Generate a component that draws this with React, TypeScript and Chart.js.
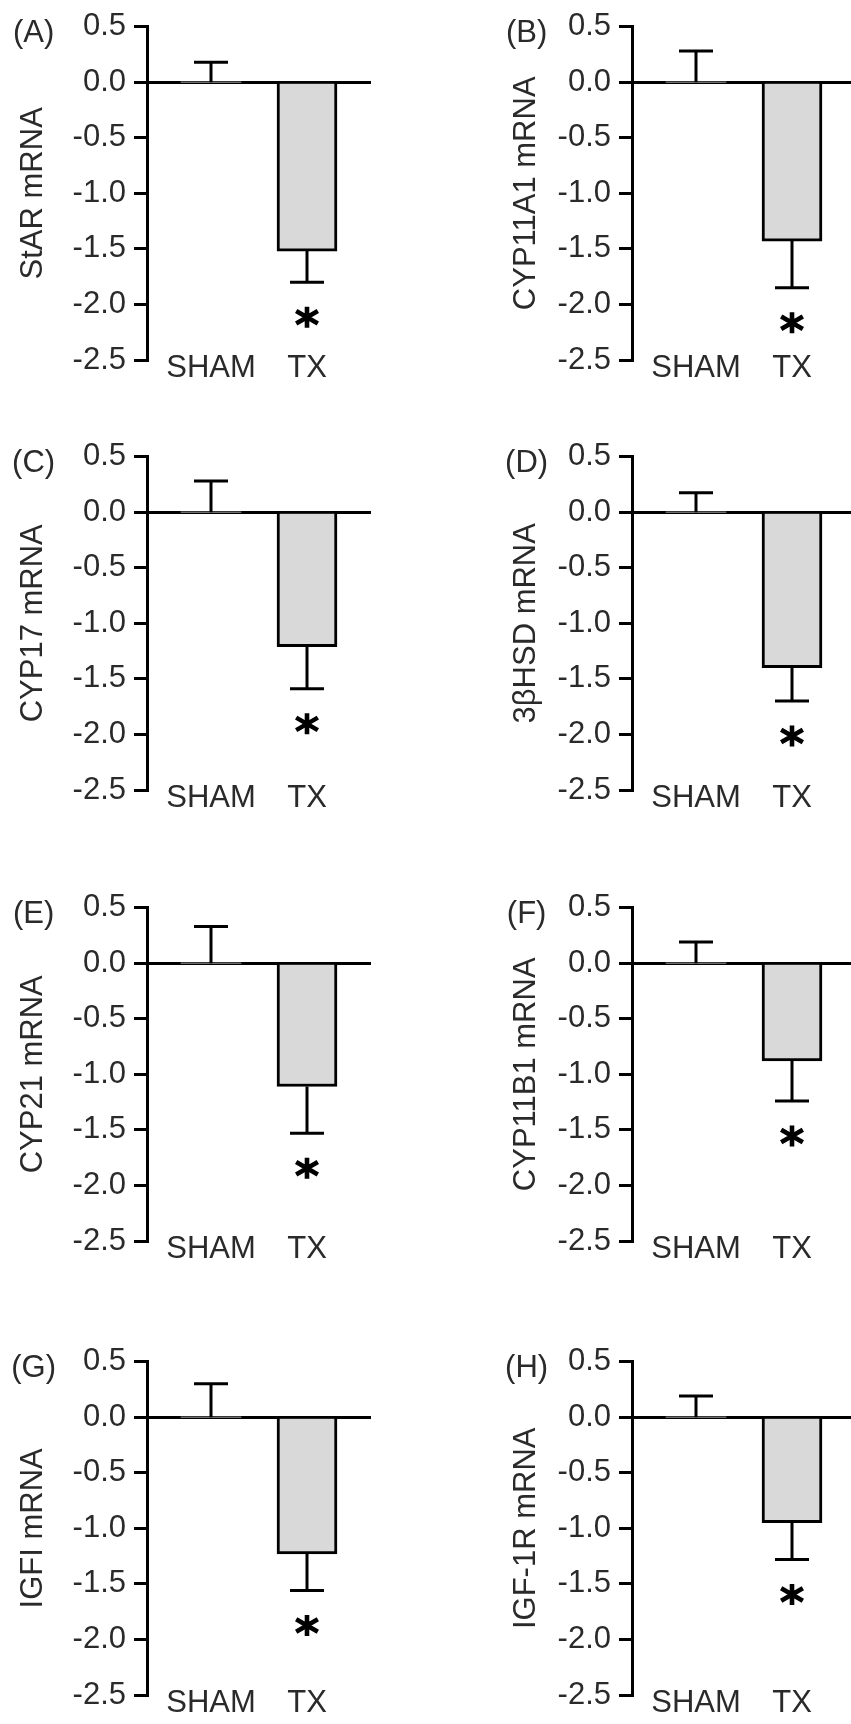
import React, { useEffect, useRef } from 'react';
import { Chart, registerables } from 'chart.js';

Chart.register(...registerables);

// ---- data ----
const panelLetters = ['(A)', '(B)', '(C)', '(D)', '(E)', '(F)', '(G)', '(H)'];
const geneLabels = [
  'StAR mRNA',
  'CYP11A1 mRNA',
  'CYP17 mRNA',
  '3βHSD mRNA',
  'CYP21 mRNA',
  'CYP11B1 mRNA',
  'IGFI mRNA',
  'IGF-1R mRNA',
];
const categories = ['SHAM', 'TX'];
const categoryPositions = [1, 2.5];
const shamMeans = [0, 0, 0, 0, 0, 0, 0, 0];
const shamErrors = [0.18, 0.28, 0.28, 0.175, 0.33, 0.19, 0.3, 0.19];
const txMeans = [-1.52, -1.43, -1.21, -1.4, -1.11, -0.88, -1.23, -0.95];
const txErrors = [0.28, 0.42, 0.38, 0.3, 0.42, 0.36, 0.33, 0.33];
const significant = [true, true, true, true, true, true, true, true];
const yTickValues = [-2.5, -2.0, -1.5, -1.0, -0.5, 0.0, 0.5];
const yMin = -2.5;
const yMax = 0.5;
const xMin = 0;
const xMax = 3.5;

// ---- layout / style ----
const FONT_FAMILY = '"Liberation Sans", Arial, Helvetica, sans-serif';
const FONT_SIZE = 31;
const TEXT_COLOR = '#2a2a2a';
const LINE_COLOR = '#000';
const BAR_FILL = '#d9d9d9';
const ROW_TOPS = [22, 452, 903, 1357];
const TOP_PAD = 22;
const PLOT_H = 338;
const BOTTOM_PAD = 40;
const CANVAS_H = TOP_PAD + PLOT_H + BOTTOM_PAD;
const COLS = [
  { canvasLeft: 0, width: 425, padLeft: 15, axisW: 132, padRight: 54 },
  { canvasLeft: 425, width: 431, padLeft: 83, axisW: 124, padRight: 0 },
];

function makeOverlay(i: number) {
  return {
    id: 'overlay' + i,
    afterDatasetsDraw(chart: any) {
      const { ctx } = chart;
      const x = chart.scales.x;
      const y = chart.scales.y;
      const means = [shamMeans[i], txMeans[i]];
      const errs = [shamErrors[i], txErrors[i]];
      ctx.save();
      ctx.strokeStyle = LINE_COLOR;
      ctx.lineWidth = 3;
      ctx.lineCap = 'butt';
      means.forEach((m, k) => {
        const px = x.getPixelForValue(categoryPositions[k]);
        const dir = m < 0 ? -1 : 1;
        const y0 = y.getPixelForValue(m);
        const y1 = y.getPixelForValue(m + dir * errs[k]);
        ctx.beginPath();
        ctx.moveTo(px, y0);
        ctx.lineTo(px, y1);
        ctx.moveTo(px - 17, y1);
        ctx.lineTo(px + 17, y1);
        ctx.stroke();
      });
      if (significant[i]) {
        const cx = x.getPixelForValue(categoryPositions[1]);
        const cy = y.getPixelForValue(txMeans[i] - txErrors[i]) + 35;
        ctx.lineWidth = 4.6;
        ctx.beginPath();
        ctx.moveTo(cx, cy - 10.5);
        ctx.lineTo(cx, cy + 10.5);
        const a = Math.PI / 6;
        const r = 12.5;
        ctx.moveTo(cx - r * Math.cos(a), cy - r * Math.sin(a));
        ctx.lineTo(cx + r * Math.cos(a), cy + r * Math.sin(a));
        ctx.moveTo(cx - r * Math.cos(a), cy + r * Math.sin(a));
        ctx.lineTo(cx + r * Math.cos(a), cy - r * Math.sin(a));
        ctx.stroke();
      }
      ctx.fillStyle = TEXT_COLOR;
      ctx.font = `${FONT_SIZE}px ${FONT_FAMILY}`;
      ctx.textAlign = 'center';
      ctx.textBaseline = 'middle';
      ctx.fillText(panelLetters[i], y.left + FONT_SIZE * 0.6, y.getPixelForValue(yMax) + 7);
      ctx.restore();
    },
  };
}

function Panel({ index }: { index: number }) {
  const ref = useRef<HTMLCanvasElement>(null);
  const col = COLS[index % 2];
  const top = ROW_TOPS[Math.floor(index / 2)] - TOP_PAD;

  useEffect(() => {
    const mkFont = () => ({ family: FONT_FAMILY, size: FONT_SIZE, lineHeight: 1.2 });
    const chart = new Chart(ref.current as HTMLCanvasElement, {
      type: 'bar',
      data: {
        datasets: [
          {
            data: categoryPositions.map((xv, k) => ({
              x: xv,
              y: k === 0 ? shamMeans[index] : txMeans[index],
            })),
            backgroundColor: BAR_FILL,
            borderColor: LINE_COLOR,
            borderWidth: (c: any) => (c.raw && c.raw.y === 0 ? 0 : 3),
            borderSkipped: 'start',
            barThickness: 60,
          } as any,
        ],
      },
      options: {
        responsive: false,
        animation: false,
        devicePixelRatio: 1,
        events: [],
        layout: {
          padding: { left: col.padLeft, right: col.padRight, top: TOP_PAD, bottom: BOTTOM_PAD },
        },
        plugins: {
          legend: { display: false },
          tooltip: { enabled: false },
        },
        scales: {
          x: {
            type: 'linear',
            axis: 'x',
            position: { y: yMin },
            min: xMin,
            max: xMax,
            offset: false,
            grid: { display: false, drawTicks: false, offset: false },
            border: { display: false },
            afterBuildTicks: (s: any) => {
              s.ticks = categoryPositions.map((v) => ({ value: v }));
            },
            ticks: {
              autoSkip: false,
              maxRotation: 0,
              minRotation: 0,
              padding: -10,
              color: TEXT_COLOR,
              font: mkFont(),
              callback: (_v: any, i: number) => categories[i],
            },
          },
          y: {
            type: 'linear',
            position: 'left',
            min: yMin,
            max: yMax,
            z: 1,
            afterBuildTicks: (s: any) => {
              s.ticks = yTickValues.map((v) => ({ value: v }));
            },
            afterFit: (s: any) => {
              s.width = col.axisW;
            },
            ticks: {
              autoSkip: false,
              padding: 8,
              color: TEXT_COLOR,
              font: mkFont(),
              callback: (v: any) => Number(v).toFixed(1),
            },
            grid: {
              color: (c: any) =>
                c.tick && Math.abs(c.tick.value) < 1e-9 ? LINE_COLOR : 'rgba(0,0,0,0)',
              tickColor: LINE_COLOR,
              lineWidth: 3,
              tickLength: 13,
              drawOnChartArea: true,
            },
            border: { display: true, color: LINE_COLOR, width: 3 },
            title: {
              display: true,
              text: geneLabels[index],
              color: TEXT_COLOR,
              font: mkFont(),
              padding: { top: 0, bottom: 0 },
            },
          },
        },
      } as any,
      plugins: [makeOverlay(index)],
    });
    return () => chart.destroy();
  }, [index]);

  return (
    <canvas
      ref={ref}
      width={col.width}
      height={CANVAS_H}
      style={{
        position: 'absolute',
        left: col.canvasLeft,
        top,
        width: col.width,
        height: CANVAS_H,
      }}
    />
  );
}

export default function App() {
  return (
    <div
      style={{
        position: 'absolute',
        left: 0,
        top: 0,
        width: 851,
        height: 1724,
        overflow: 'hidden',
        background: '#fff',
      }}
    >
      {geneLabels.map((_, i) => (
        <Panel key={i} index={i} />
      ))}
    </div>
  );
}
